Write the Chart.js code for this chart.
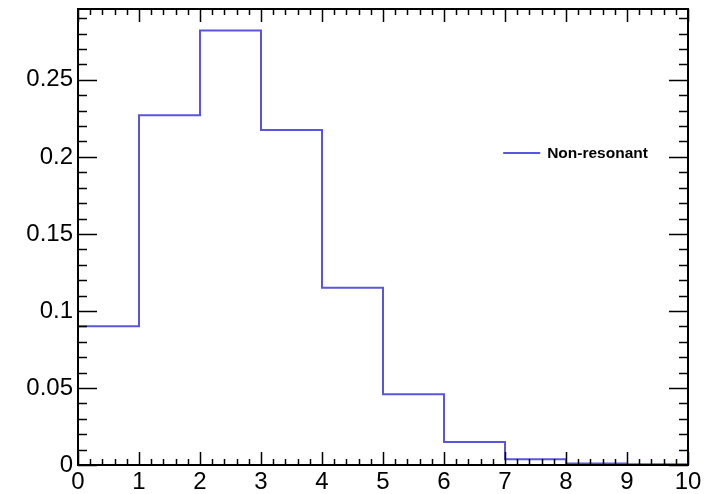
<!DOCTYPE html>
<html>
<head>
<script src="https://cdn.jsdelivr.net/npm/chart.js@4.4.1/dist/chart.umd.min.js"></script>
<style>
  body { margin: 0; background: #fff; }
  #wrap { width: 715px; height: 494px; }
</style>
</head>
<body>
<div id="wrap"><canvas id="hist"></canvas></div>
<script>
// bin edges 0..10, one value per bin
const binEdges = [0, 1, 2, 3, 4, 5, 6, 7, 8, 9, 10];
const nonResonant = [0.090, 0.227, 0.282, 0.2175, 0.115, 0.046, 0.015, 0.0037, 0.001, 0.0005];
const yTicks = [0, 0.05, 0.1, 0.15, 0.2, 0.25];
const xTicks = [0, 1, 2, 3, 4, 5, 6, 7, 8, 9, 10];

// step points: bin i starts at its low edge, the last edge closes the final bin
const points = binEdges.map((e, i) => ({ x: e, y: nonResonant[Math.min(i, nonResonant.length - 1)] }));

const lineColor = '#5a55e0';
const font = 'Liberation Sans, Arial, Helvetica, sans-serif';

// ROOT style frame with inward ticks on all four sides
const frameTicks = {
    id: 'frameTicks',
    afterDraw(chart) {
        const { ctx, chartArea: a, scales } = chart;
        const xs = scales.x, ys = scales.y;
        ctx.save();
        ctx.strokeStyle = '#000';
        ctx.lineWidth = 2;
        ctx.strokeRect(a.left, a.top, a.right - a.left, a.bottom - a.top);
        ctx.lineWidth = 1.5;
        ctx.beginPath();
        for (let i = 0; i <= 50; i++) {
            const v = i * 0.2;
            const px = Math.round(xs.getPixelForValue(v)) + 0.5;
            const len = i % 5 === 0 ? 13 : 6;
            ctx.moveTo(px, a.bottom); ctx.lineTo(px, a.bottom - len);
            ctx.moveTo(px, a.top); ctx.lineTo(px, a.top + len);
        }
        for (let i = 0; i <= 29; i++) {
            const v = i * 0.01;
            const py = Math.round(ys.getPixelForValue(v)) + 0.5;
            const len = i % 5 === 0 ? 19 : 9;
            ctx.moveTo(a.left, py); ctx.lineTo(a.left + len, py);
            ctx.moveTo(a.right, py); ctx.lineTo(a.right - len, py);
        }
        ctx.stroke();

        // legend
        const ds = chart.data.datasets[0];
        const ly = ys.getPixelForValue(0.2026);
        const lx = xs.getPixelForValue(6.97);
        ctx.strokeStyle = ds.borderColor;
        ctx.lineWidth = 2;
        ctx.beginPath();
        ctx.moveTo(lx, ly); ctx.lineTo(lx + 37, ly);
        ctx.stroke();
        ctx.fillStyle = '#000';
        ctx.font = 'bold 15.5px ' + font;
        ctx.textBaseline = 'middle';
        ctx.fillText(ds.label, lx + 44, ly + 1);
        ctx.restore();
    }
};

new Chart(document.getElementById('hist'), {
    type: 'line',
    data: {
        datasets: [{
            label: 'Non-resonant',
            data: points,
            borderColor: lineColor,
            borderWidth: 2,
            stepped: 'before',
            pointRadius: 0,
            fill: false
        }]
    },
    options: {
        responsive: true,
        maintainAspectRatio: false,
        animation: false,
        layout: { padding: { top: 9, right: 27, left: 0, bottom: 0 } },
        plugins: { legend: { display: false }, tooltip: { enabled: false } },
        scales: {
            x: {
                type: 'linear',
                min: 0, max: 10,
                afterBuildTicks: s => { s.ticks = xTicks.map(v => ({ value: v })); },
                afterFit: s => { s.height = 29; s.paddingLeft = 0; s.paddingRight = 0; },
                grid: { display: false, drawTicks: false },
                border: { display: false },
                ticks: { color: '#000', padding: 3, maxRotation: 0, font: { family: font, size: 24 } }
            },
            y: {
                min: 0, max: 0.296,
                afterBuildTicks: s => { s.ticks = yTicks.map(v => ({ value: v })); },
                afterFit: s => { s.width = 78; s.paddingTop = 0; s.paddingBottom = 0; },
                grid: { display: false, drawTicks: false },
                border: { display: false },
                ticks: {
                    color: '#000', padding: 5,
                    font: { family: font, size: 24 },
                    callback: v => String(parseFloat(v.toFixed(2)))
                }
            }
        }
    },
    plugins: [frameTicks]
});
</script>
</body>
</html>
